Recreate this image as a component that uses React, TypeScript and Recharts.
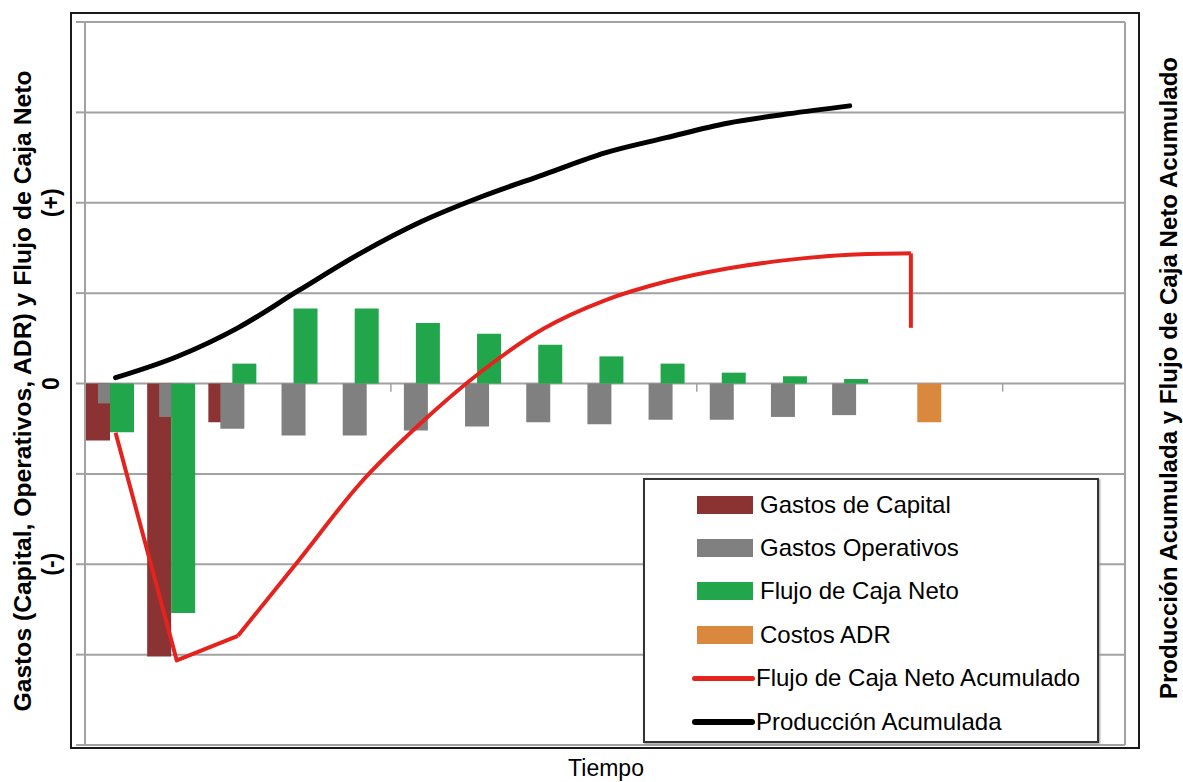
import React from 'react';
import { ComposedChart, Bar, Line, XAxis, YAxis, CartesianGrid, ReferenceLine } from 'recharts';

// ---- Data (left axis units for bars, right axis units for lines)
const periodos = ['P1', 'P2', 'P3', 'P4', 'P5', 'P6', 'P7', 'P8', 'P9', 'P10', 'P11', 'P12', 'P13', 'P14', 'P15', 'P16', 'P17'];
const gastosCapital = [-0.63, -3.02, -0.43, null, null, null, null, null, null, null, null, null, null, null, null, null, null];
const gastosOperativos = [-0.22, -0.37, -0.5, -0.575, -0.575, -0.52, -0.475, -0.43, -0.45, -0.4, -0.4, -0.37, -0.35, null, null, null, null];
const flujoCajaNeto = [-0.54, -2.54, 0.22, 0.83, 0.83, 0.67, 0.55, 0.43, 0.3, 0.22, 0.12, 0.08, 0.05, null, null, null, null];
const costosADR = [null, null, null, null, null, null, null, null, null, null, null, null, null, -0.43, null, null, null];

const produccionAcumulada = [0.08, 0.37, 0.77, 1.29, 1.8, 2.24, 2.59, 2.89, 3.19, 3.4, 3.6, 3.73, 3.84];
const flujoCajaAcumulado = [-0.68, -3.83, -3.49, -2.44, -1.38, -0.54, 0.18, 0.76, 1.15, 1.41, 1.59, 1.71, 1.78, 1.8];
const flujoCajaAcumuladoFinal = 0.77;

const leftTicks = [-4, -3, -2, -1, 0, 1, 2, 3, 4];
const leftTickLabels: Record<string, string> = { '2': '(+)', '0': '0', '-2': '(-)' };
const rightTicks = [-5, -4, -3, -2, -1, 0, 1, 2, 3, 4, 5];
const marcasTiempo = [5, 10, 15];
const largoMarca = -0.09;

const tituloX = 'Tiempo';
const tituloIzq = 'Gastos (Capital, Operativos, ADR) y Flujo de Caja Neto';
const tituloDer = 'Producción Acumulada y Flujo de Caja Neto Acumulado';

const serieNombres = ['Gastos de Capital', 'Gastos Operativos', 'Flujo de Caja Neto', 'Costos ADR', 'Flujo de Caja Neto Acumulado', 'Producción Acumulada'];
const serieColores = ['#8B3232', '#808080', '#22A64B', '#D9883E', '#E5231E', '#000000'];
const serieTipos = ['bar', 'bar', 'bar', 'bar', 'line', 'line'];

// ---- Derived tables for the library
const barData = periodos.map((p, i) => ({
  periodo: p,
  capital: gastosCapital[i],
  operativos: gastosOperativos[i],
  neto: flujoCajaNeto[i],
  adr: costosADR[i],
}));
const produccionData = produccionAcumulada.map((v, i) => ({ x: i + 0.5, y: v }));
const flujoInicio = flujoCajaAcumulado.slice(0, 3).map((v, i) => ({ x: i + 0.5, y: v }));
const flujoCurva = flujoCajaAcumulado.slice(2).map((v, i) => ({ x: i + 2.5, y: v }));
const ultimo = flujoCajaAcumulado.length - 1;
const flujoCierre = [
  { x: ultimo + 0.5, y: flujoCajaAcumulado[ultimo] },
  { x: ultimo + 0.5, y: flujoCajaAcumuladoFinal },
];

const FONT = "'Liberation Sans', Arial, Helvetica, sans-serif";
const GRID = '#a2a2a2';

const LeftTick = (props: any) => {
  const { x, y, payload } = props;
  const label = leftTickLabels[String(payload.value)];
  if (!label) return null;
  const cx = x - 23;
  return (
    <text
      x={cx}
      y={y}
      transform={`rotate(-90, ${cx}, ${y})`}
      textAnchor="middle"
      dominantBaseline="central"
      fontFamily={FONT}
      fontWeight="bold"
      fontSize={23}
      fill="#000"
    >
      {label}
    </text>
  );
};

export default function App() {
  return (
    <div style={{ position: 'absolute', left: 0, top: 0, width: 1183, height: 782, background: '#fff', fontFamily: FONT }}>
      <div
        style={{
          position: 'absolute',
          left: 70,
          top: 12,
          width: 1070,
          height: 737,
          border: '2px solid #1a1a1a',
          boxSizing: 'border-box',
        }}
      />
      <div style={{ position: 'absolute', left: 0, top: 0 }}>
        <ComposedChart
          width={1183}
          height={782}
          data={barData}
          margin={{ top: 22, right: 0, bottom: 37, left: 0 }}
          barGap={-12}
          barCategoryGap={0}
        >
          <CartesianGrid xAxisId="cat" yAxisId="left" vertical={false} stroke={GRID} strokeWidth={2} />
          <XAxis xAxisId="cat" dataKey="periodo" type="category" hide />
          <XAxis xAxisId="num" dataKey="x" type="number" domain={[0, 17]} allowDataOverflow hide />
          <YAxis
            yAxisId="left"
            width={85}
            domain={[-4, 4]}
            ticks={leftTicks}
            interval={0}
            allowDataOverflow
            tickSize={9}
            axisLine={{ stroke: GRID, strokeWidth: 2 }}
            tickLine={{ stroke: GRID, strokeWidth: 2 }}
            tick={<LeftTick />}
          />
          <YAxis
            yAxisId="right"
            orientation="right"
            width={58}
            domain={[-5, 5]}
            ticks={rightTicks}
            interval={0}
            allowDataOverflow
            tickSize={8}
            axisLine={{ stroke: GRID, strokeWidth: 2 }}
            tickLine={{ stroke: GRID, strokeWidth: 1.5 }}
            tick={false}
          />
          {marcasTiempo.map((m) => (
            <ReferenceLine
              key={m}
              xAxisId="num"
              yAxisId="left"
              segment={[{ x: m, y: 0 }, { x: m, y: largoMarca }]}
              stroke={GRID}
              strokeWidth={1.5}
              ifOverflow="visible"
            />
          ))}
          <Bar xAxisId="cat" yAxisId="left" dataKey="capital" name={serieNombres[0]} fill={serieColores[0]} barSize={24} isAnimationActive={false} />
          <Bar xAxisId="cat" yAxisId="left" dataKey="operativos" name={serieNombres[1]} fill={serieColores[1]} barSize={24} isAnimationActive={false} />
          <Bar xAxisId="cat" yAxisId="left" dataKey="neto" name={serieNombres[2]} fill={serieColores[2]} barSize={24} isAnimationActive={false} />
          <Bar xAxisId="cat" yAxisId="left" dataKey="adr" name={serieNombres[3]} fill={serieColores[3]} barSize={24} isAnimationActive={false} />
          <Line xAxisId="num" yAxisId="right" data={flujoInicio} dataKey="y" name={serieNombres[4]} type="linear" stroke={serieColores[4]} strokeWidth={4} dot={false} isAnimationActive={false} strokeLinejoin="round" />
          <Line xAxisId="num" yAxisId="right" data={flujoCurva} dataKey="y" name={serieNombres[4] + ' '} type="monotone" stroke={serieColores[4]} strokeWidth={4} dot={false} isAnimationActive={false} />
          <Line xAxisId="num" yAxisId="right" data={flujoCierre} dataKey="y" name={serieNombres[4] + '  '} type="linear" stroke={serieColores[4]} strokeWidth={4} dot={false} isAnimationActive={false} strokeLinejoin="miter" />
          <Line xAxisId="num" yAxisId="right" data={produccionData} dataKey="y" name={serieNombres[5]} type="monotone" stroke={serieColores[5]} strokeWidth={5} strokeLinecap="round" dot={false} isAnimationActive={false} />
        </ComposedChart>
      </div>

      <svg width={1183} height={782} style={{ position: 'absolute', left: 0, top: 0, pointerEvents: 'none' }}>
        <text
          transform="translate(22, 391) rotate(-90)"
          textAnchor="middle"
          dominantBaseline="central"
          fontFamily={FONT}
          fontWeight="bold"
          fontSize={24.7}
          fill="#000"
        >
          {tituloIzq}
        </text>
        <text
          transform="translate(1168, 378) rotate(-90)"
          textAnchor="middle"
          dominantBaseline="central"
          fontFamily={FONT}
          fontWeight="bold"
          fontSize={24.1}
          fill="#000"
        >
          {tituloDer}
        </text>
        <text x={606} y={776} textAnchor="middle" fontFamily={FONT} fontSize={23} fill="#000">
          {tituloX}
        </text>
      </svg>

      <div
        style={{
          position: 'absolute',
          left: 643,
          top: 478,
          width: 456,
          height: 265,
          border: '2px solid #333',
          boxShadow: '1px 1px 2px #999',
          boxSizing: 'border-box',
          background: '#fff',
          paddingTop: 3,
        }}
      >
        {serieNombres.map((n, i) => (
          <div key={n} style={{ display: 'flex', alignItems: 'center', height: 43.4, paddingLeft: serieTipos[i] === 'bar' ? 52 : 47 }}>
            {serieTipos[i] === 'bar' ? (
              <div style={{ width: 56, height: 18, background: serieColores[i], marginRight: 7 }} />
            ) : (
              <div style={{ width: 63, height: i === 5 ? 6 : 5, borderRadius: 3, background: serieColores[i], marginRight: 1 }} />
            )}
            <span style={{ fontSize: 24, color: '#000', whiteSpace: 'nowrap' }}>{n}</span>
          </div>
        ))}
      </div>
    </div>
  );
}
